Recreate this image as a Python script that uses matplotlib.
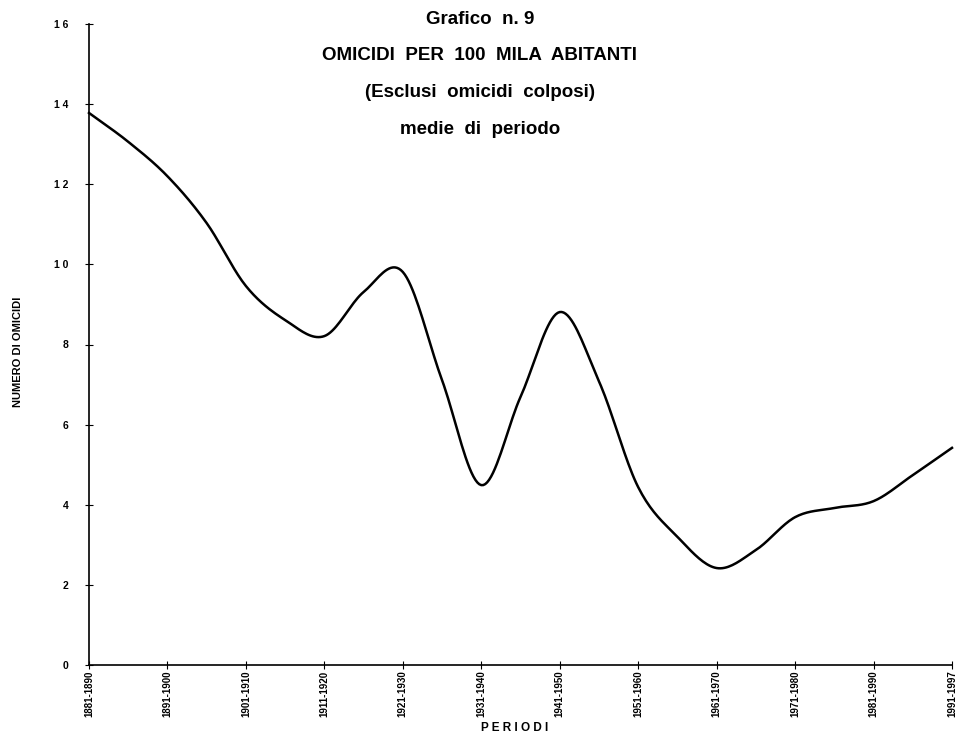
import numpy as np
import matplotlib
matplotlib.use('Agg')
import matplotlib.pyplot as plt

# periods on the x axis
periodi = ['1881-1890', '1891-1900', '1901-1910', '1911-1920', '1921-1930',
           '1931-1940', '1941-1950', '1951-1960', '1961-1970', '1971-1980',
           '1981-1990', '1991-1997']

# curve, at every half period (position in period units)
pos = [0, 0.5, 1, 1.5, 2, 2.5, 3, 3.5, 4, 4.5, 5, 5.5,
       6, 6.5, 7, 7.5, 8, 8.5, 9, 9.5, 10, 10.5, 11]
omicidi = [13.78, 13.06, 12.2, 11.03, 9.46, 8.61, 8.21, 9.31, 9.81, 7.11, 4.49, 6.69,
           8.81, 7.08, 4.44, 3.2, 2.42, 2.87, 3.69, 3.92, 4.09, 4.74, 5.42]


def smooth(x, y, n=20):
    # catmull-rom through the read points
    x = np.asarray(x, float)
    y = np.asarray(y, float)
    px = np.concatenate([[2 * x[0] - x[1]], x, [2 * x[-1] - x[-2]]])
    py = np.concatenate([[2 * y[0] - y[1]], y, [2 * y[-1] - y[-2]]])
    xs, ys = [], []
    t = np.linspace(0, 1, n, endpoint=False)
    for i in range(1, len(px) - 2):
        for arr, out in ((px, xs), (py, ys)):
            p0, p1, p2, p3 = arr[i - 1], arr[i], arr[i + 1], arr[i + 2]
            out.extend(0.5 * (2 * p1 + (-p0 + p2) * t
                              + (2 * p0 - 5 * p1 + 4 * p2 - p3) * t ** 2
                              + (-p0 + 3 * p1 - 3 * p2 + p3) * t ** 3))
    xs.append(x[-1])
    ys.append(y[-1])
    return np.array(xs), np.array(ys)


plt.rcParams['font.family'] = ['Liberation Sans', 'DejaVu Sans']

fig = plt.figure(figsize=(9.6, 7.4), dpi=100)
ax = fig.add_axes([89 / 960, 1 - 665 / 740, (952 - 89) / 960, (665 - 24) / 740])

sx, sy = smooth(pos, omicidi)
ax.plot(sx, sy, color='black', linewidth=1.8, clip_on=False)

ax.set_xlim(0, len(periodi) - 1)
ax.set_ylim(0, 16)
ax.set_xticks(range(len(periodi)))
ax.set_xticklabels(periodi, rotation=90, fontsize=7, fontweight='bold')
ax.set_yticks(range(0, 17, 2))
ax.set_yticklabels([' '.join(str(v)) for v in range(0, 17, 2)],
                   fontsize=7.5, fontweight='bold')
ax.tick_params(axis='both', direction='inout', length=6, width=0.8, color='black')
ax.tick_params(axis='y', pad=12)
ax.tick_params(axis='x', pad=1)

for s in ['top', 'right']:
    ax.spines[s].set_visible(False)
for s in ['left', 'bottom']:
    ax.spines[s].set_linewidth(1.2)

titolo = ['Grafico  n. 9', 'OMICIDI  PER  100  MILA  ABITANTI',
          '(Esclusi  omicidi  colposi)', 'medie  di  periodo']
for k, riga in enumerate(titolo):
    fig.text(0.5, 1 - (19 + 36.7 * k) / 740, riga, ha='center', va='center',
             fontsize=13.5, fontweight='bold')

fig.text(515 / 960, 1 - 728 / 740, 'P E R I O D I', ha='center', va='center',
         fontsize=8.5, fontweight='bold')
fig.text(18 / 960, 1 - 352 / 740, 'NUMERO DI OMICIDI', rotation=90, ha='center',
         va='center', fontsize=8, fontweight='bold', fontstretch='condensed')

fig.savefig('out.png', dpi=100)
